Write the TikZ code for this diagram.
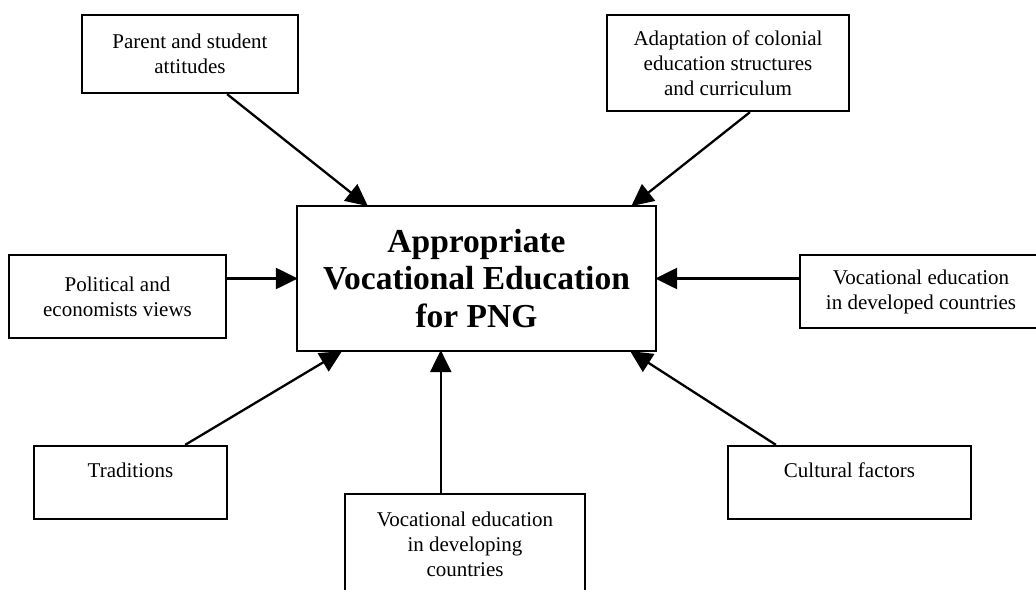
\documentclass[tikz,border=0pt]{standalone}
\usepackage{fontspec}
\setmainfont{Liberation Serif}
\usetikzlibrary{arrows.meta,calc,backgrounds}

\begin{document}
\begin{tikzpicture}[x=1pt,y=-1pt,
   box/.style={draw,fill=white,line width=2.3pt,align=center,inner sep=0pt,font=\fontsize{21}{25}\selectfont},
   arr/.style={line width=2.3pt,-{Triangle[length=22pt,width=21pt]},shorten >=-2pt}]
   \useasboundingbox (0,0) rectangle (1036,589);
   \node[box,minimum width=359pt,minimum height=145pt,font=\bfseries\fontsize{33.5}{37.5}\selectfont] (c) at (476.5,278.5) {Appropriate\\Vocational Education\\for PNG};
   \node[box,minimum width=216pt,minimum height=78pt] (par) at (190,54) {Parent and student\\attitudes};
   \node[box,minimum width=242pt,minimum height=96pt] (ada) at (728,63) {Adaptation of colonial\\education structures\\and curriculum};
   \node[box,minimum width=217pt,minimum height=83pt] (pol) at (117.5,296.5) {Political and\\economists views};
   \node[box,minimum width=242pt,minimum height=73pt] (dvd) at (921,291.5) {Vocational education\\in developed countries};
   \node[box,minimum width=193pt,minimum height=73pt] (trd) at (130.5,482.5) {\rule{0pt}{22pt}Traditions\\ \strut};
   \node[box,minimum width=243pt,minimum height=73pt] (cul) at (849.5,482.5) {\rule{0pt}{22pt}Cultural factors\\ \strut};
   \node[box,minimum width=240pt,minimum height=100pt] (dvg) at (465,544) {Vocational education\\in developing\\countries};
   \coordinate (dv) at ($(dvg.north west)!0.4!(dvg.north east)$);
   \begin{scope}[on background layer]
    \path[arr]
    ($(par.south west)!0.67!(par.south east)$) edge ($(c.north west)!0.195!(c.north east)$)
    ($(ada.south west)!0.59!(ada.south east)$) edge ($(c.north west)!0.933!(c.north east)$)
    (pol.east |- c.west) edge (c.west)
    (dvd.west |- c.east) edge (c.east)
    ($(trd.north west)!0.78!(trd.north east)$) edge ($(c.south west)!0.123!(c.south east)$)
    ($(cul.north west)!0.2!(cul.north east)$) edge ($(c.south west)!0.93!(c.south east)$)
    (dv) edge (dv |- c.south);
   \end{scope}
\end{tikzpicture}
\end{document}
